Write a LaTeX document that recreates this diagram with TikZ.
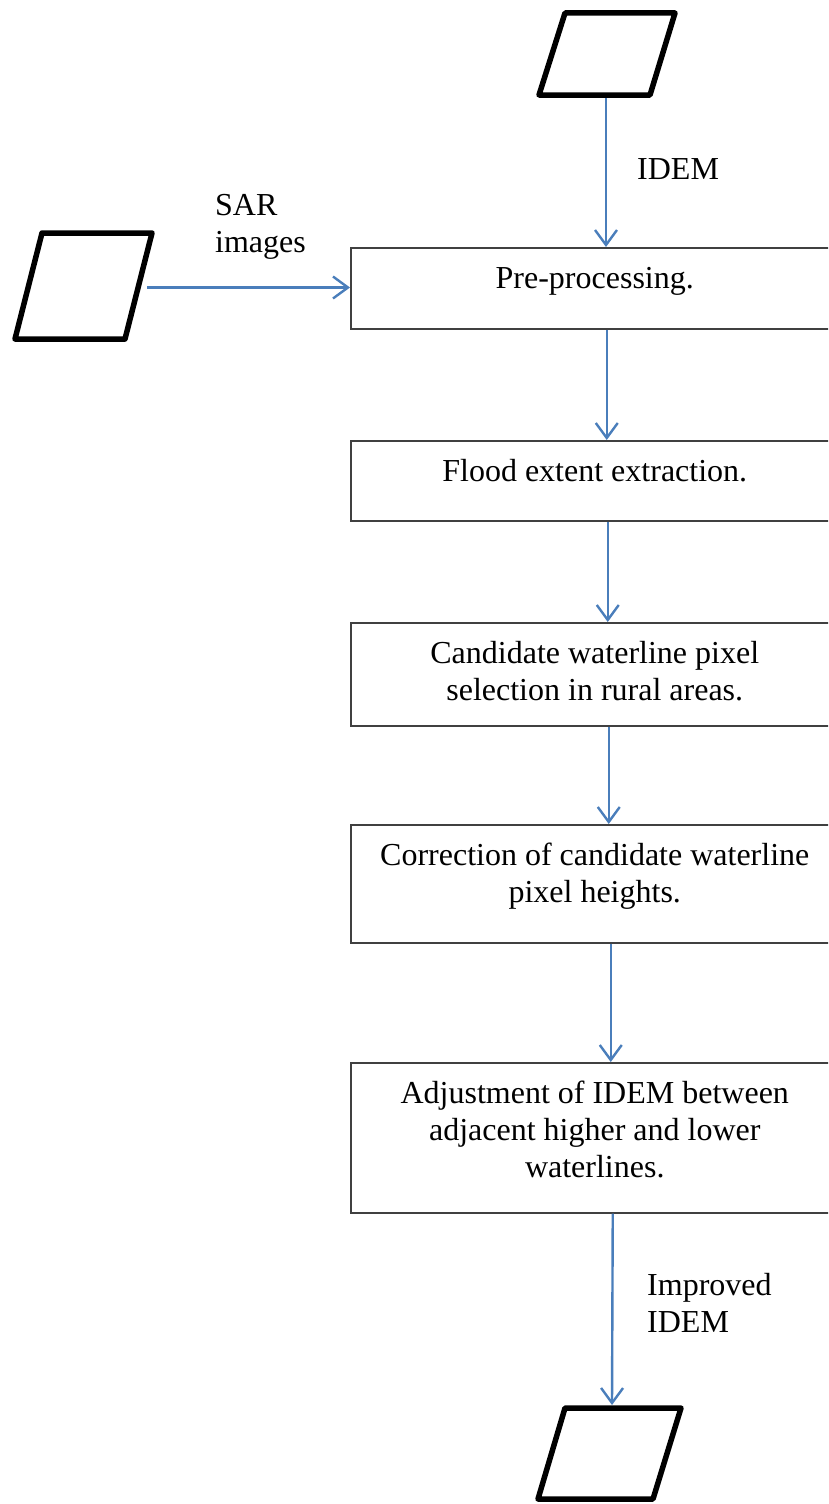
\documentclass[tikz,border=0pt]{standalone}
\usepackage{fontspec}
\setmainfont{Liberation Serif}
\usetikzlibrary{arrows.meta}
\definecolor{arrowblue}{HTML}{4A7EBB}
\definecolor{boxline}{HTML}{404040}
\begin{document}
\begin{tikzpicture}[x=1pt,y=-1pt,
  flow/.style={draw=arrowblue, line width=2.4pt, -{Straight Barb[length=15pt,width=22pt,line width=2.4pt]}},
  procbox/.style={draw=boxline, line width=1.5pt, minimum width=488pt, anchor=north west, inner sep=0pt},
  io/.style={draw=black, line width=5.5pt, line join=round},
  txt/.style={font=\fontsize{32}{37}\selectfont, align=center, inner sep=0pt, anchor=north},
  lbl/.style={font=\fontsize{32}{37}\selectfont, align=left, inner sep=0pt, anchor=north west}]
\useasboundingbox (0,0) rectangle (828,1504);
\begin{scope}
\clip (0,0) rectangle (828,1504);
% input / output parallelograms
\draw[io] (565,13) -- (675,13) -- (650,95) -- (539,95) -- cycle;
\draw[io] (42,233) -- (152,233) -- (125,339) -- (15,339) -- cycle;
\draw[io] (565,1408) -- (681,1408) -- (653,1499) -- (538,1499) -- cycle;
\coordinate (idemout) at (606,98);
\coordinate (sarout) at (147,287.5);
\coordinate (outin) at (612,1405);
% process boxes
\node[procbox, minimum height=81pt]  (pre)   at (350,247)  {};
\node[procbox, minimum height=80pt]  (flood) at (350,440)  {};
\node[procbox, minimum height=103pt] (cand)  at (350,622)  {};
\node[procbox, minimum height=118pt] (corr)  at (350,824)  {};
\node[procbox, minimum height=150pt] (adj)   at (350,1062) {};
\end{scope}
% box texts
\node[txt] (tpre)   at ([yshift=-15pt]pre.north)   {\strut Pre-processing.};
\node[txt] (tflood) at ([yshift=-15pt]flood.north) {\strut Flood extent extraction.};
\node[txt] (tcand)  at ([yshift=-15pt]cand.north)  {\strut Candidate waterline pixel\\selection in rural areas.};
\node[txt] (tcorr)  at ([yshift=-15pt]corr.north)  {\strut Correction of candidate waterline\\pixel heights.};
\node[txt] (tadj)   at ([yshift=-15pt]adj.north)   {\strut Adjustment of IDEM between\\adjacent higher and lower\\waterlines.};
% labels
\node[lbl] (lidem) at (637,153)  {\strut IDEM};
\node[lbl] (lsar)  at (215,189)  {\strut SAR\\images};
\node[lbl] (limp)  at (647,1269) {\strut Improved\\IDEM};
% connectors
\draw[flow] (idemout) -- (idemout |- pre.north);
\draw[flow] (sarout) -- (sarout -| pre.west);
\draw[flow] ([xshift=12pt]pre.south) -- ([xshift=12pt]flood.north);
\draw[flow] ([xshift=13pt]flood.south) -- ([xshift=13pt]cand.north);
\draw[flow] ([xshift=14pt]cand.south) -- ([xshift=14pt]corr.north);
\draw[flow] ([xshift=16pt]corr.south) -- ([xshift=16pt]adj.north);
\draw[flow] ([xshift=18pt]adj.south) -- (outin);
\end{tikzpicture}
\end{document}
